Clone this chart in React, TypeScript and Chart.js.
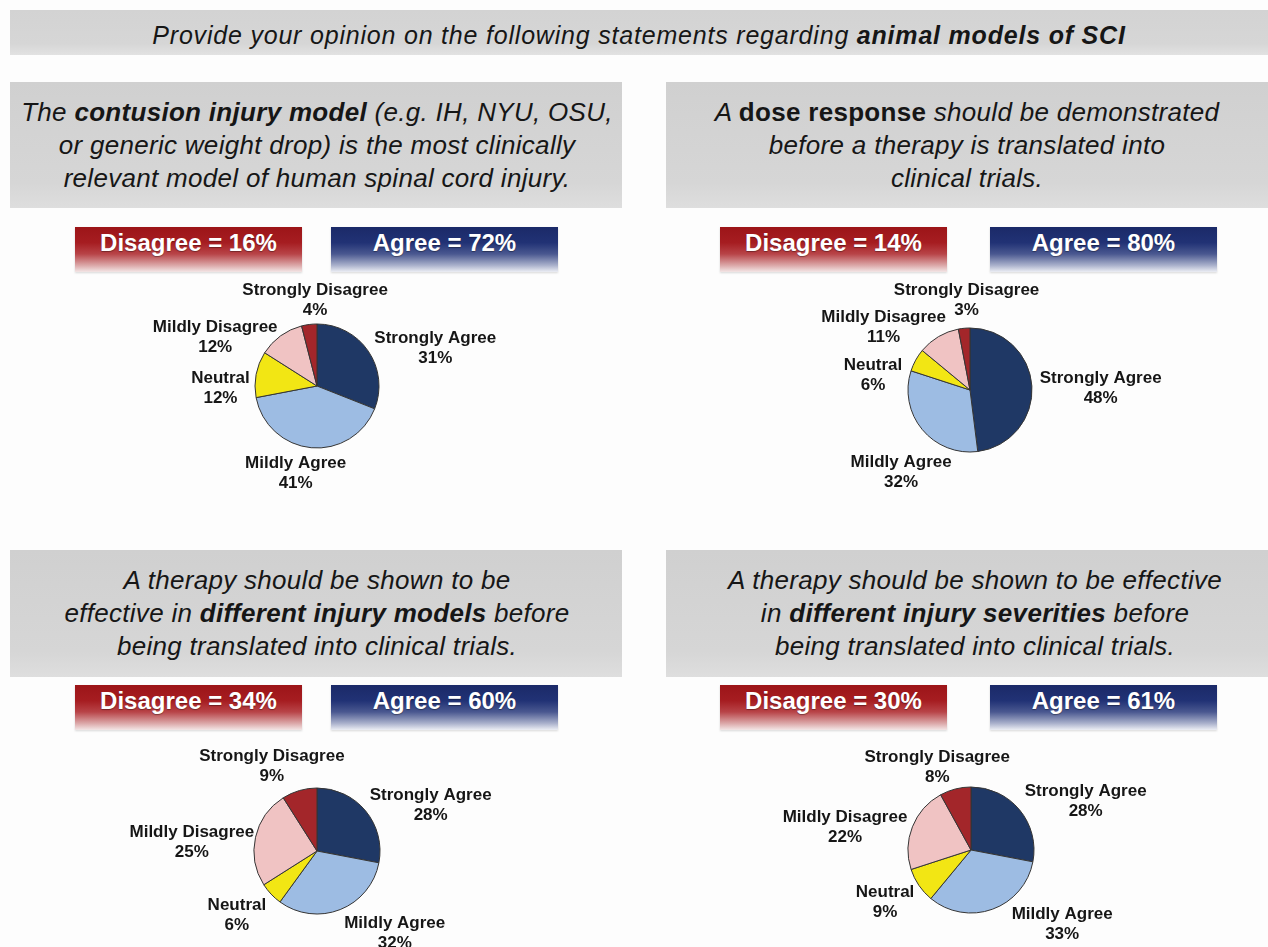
import React, { useEffect, useRef } from "react";
import { Chart, registerables } from "chart.js";

Chart.register(...registerables);

// ---------- data ----------
const categories = ["Strongly Agree", "Mildly Agree", "Neutral", "Mildly Disagree", "Strongly Disagree"];
const contusionValues = [31, 41, 12, 12, 4];
const doseResponseValues = [48, 32, 6, 11, 3];
const injuryModelValues = [28, 32, 6, 25, 9];
const injurySeverityValues = [28, 33, 9, 22, 8];
const disagreeTotals = [16, 14, 34, 30];
const agreeTotals = [72, 80, 60, 61];
const pageTitle = ["Provide your opinion on the following statements regarding ", "animal models of SCI"];

// ---------- style ----------
const sliceColors = ["#1f3865", "#9dbce3", "#f2e614", "#f0c3c3", "#a3262a"];
const FONT = '"Liberation Sans", Arial, Helvetica, sans-serif';

const labelPlugin = {
  id: "outerLabels",
  afterDatasetsDraw(chart: any, _args: any, opts: any) {
    const ctx = chart.ctx;
    const meta = chart.getDatasetMeta(0);
    const ds = chart.data.datasets[0];
    const nudges = opts.nudges || [];
    ctx.save();
    ctx.font = `bold ${opts.fontSize}px ${FONT}`;
    ctx.fillStyle = "#161616";
    ctx.textAlign = "center";
    ctx.textBaseline = "middle";
    meta.data.forEach((arc: any, i: number) => {
      const p = arc.getProps(["x", "y", "startAngle", "endAngle", "outerRadius"], true);
      const mid = (p.startAngle + p.endAngle) / 2;
      const ux = Math.cos(mid);
      const uy = Math.sin(mid);
      const l1 = String(chart.data.labels[i]);
      const l2 = ds.data[i] + "%";
      const w = Math.max(ctx.measureText(l1).width, ctx.measureText(l2).width);
      const h = opts.lineGap * 2;
      const ax = p.x + ux * (p.outerRadius + opts.gap);
      const ay = p.y + uy * (p.outerRadius + opts.gap);
      const n = nudges[i] || [0, 0];
      const cx = ax + (ux * w) / 2 + n[0];
      const cy = ay + (uy * h) / 2 + n[1];
      ctx.fillText(l1, cx, cy - opts.lineGap / 2);
      ctx.fillText(l2, cx, cy + opts.lineGap / 2);
    });
    ctx.restore();
  },
};

type PanelLayout = {
  values: number[];
  header: { left: number; top: number; width: number; height: number; textCenter: number };
  lines: React.ReactNode[];
  badgeTop: number;
  redLeft: number;
  blueLeft: number;
  pie: { cx: number; cy: number; r: number };
  nudges: number[][];
};

const CW = 460;
const CH = 260;

function PieCanvas({ values, pie, nudges }: { values: number[]; pie: PanelLayout["pie"]; nudges: number[][] }) {
  const ref = useRef<HTMLCanvasElement | null>(null);
  useEffect(() => {
    if (!ref.current) return;
    const chart = new Chart(ref.current, {
      type: "pie",
      data: {
        labels: categories,
        datasets: [
          {
            data: values,
            backgroundColor: sliceColors,
            borderColor: "#353535",
            borderWidth: 1,
          },
        ],
      },
      options: {
        responsive: false,
        animation: false,
        radius: pie.r,
        layout: { padding: 0 },
        events: [],
        plugins: {
          legend: { display: false },
          tooltip: { enabled: false },
          outerLabels: { nudges, gap: 8, lineGap: 20, fontSize: 17 },
        } as any,
      } as any,
      plugins: [labelPlugin as any],
    });
    return () => chart.destroy();
  }, []);
  return (
    <canvas
      ref={ref}
      width={CW}
      height={CH}
      style={{ position: "absolute", left: pie.cx - CW / 2, top: pie.cy - CH / 2, width: CW, height: CH }}
    />
  );
}

const B = ({ children, italic = true }: { children: React.ReactNode; italic?: boolean }) => (
  <span style={{ fontWeight: "bold", fontStyle: italic ? "italic" : "normal" }}>{children}</span>
);

const panels: PanelLayout[] = [
  {
    values: contusionValues,
    header: { left: 10, top: 82, width: 612, height: 126, textCenter: 317 },
    lines: [
      <>The <B>contusion injury model</B> (e.g. IH, NYU, OSU,</>,
      <>or generic weight drop) is the most clinically</>,
      <>relevant model of human spinal cord injury.</>,
    ],
    badgeTop: 227,
    redLeft: 75,
    blueLeft: 331,
    pie: { cx: 317, cy: 386, r: 62 },
    nudges: [[10, 13], [-10, -2], [1, 19], [-24, 24], [16, 4]],
  },
  {
    values: doseResponseValues,
    header: { left: 666, top: 82, width: 602, height: 126, textCenter: 967 },
    lines: [
      <>A <B italic={false}>dose response</B> should be demonstrated</>,
      <>before a therapy is translated into</>,
      <>clinical trials.</>,
    ],
    badgeTop: 227,
    redLeft: 720,
    blueLeft: 990,
    pie: { cx: 970, cy: 390, r: 62 },
    nudges: [[0, 4], [24, 25], [-10, 29], [-19, 15], [10, 0]],
  },
  {
    values: injuryModelValues,
    header: { left: 10, top: 550, width: 612, height: 127, textCenter: 317 },
    lines: [
      <>A therapy should be shown to be</>,
      <>effective in <B>different injury models</B> before</>,
      <>being translated into clinical trials.</>,
    ],
    badgeTop: 685,
    redLeft: 75,
    blueLeft: 331,
    pie: { cx: 317, cy: 851, r: 63 },
    nudges: [[12, 12], [33, -2], [-7, 2], [5, 11], [-5, 3]],
  },
  {
    values: injurySeverityValues,
    header: { left: 666, top: 550, width: 602, height: 127, textCenter: 975 },
    lines: [
      <>A therapy should be shown to be effective</>,
      <>in <B>different injury severities</B> before</>,
      <>being translated into clinical trials.</>,
    ],
    badgeTop: 685,
    redLeft: 720,
    blueLeft: 990,
    pie: { cx: 971, cy: 850, r: 63 },
    nudges: [[13, 9], [50, -11], [-3, 1], [-2, 11], [2, 5]],
  },
];

const BADGE_W = 227;
const BADGE_H = 45;

function Badge({ left, top, text, kind }: { left: number; top: number; text: string; kind: "red" | "blue" }) {
  const bg =
    kind === "red"
      ? "linear-gradient(to bottom, #9c1518 0%, #a61d21 35%, #b84448 60%, #dba7a8 85%, #f3e6e6 100%)"
      : "linear-gradient(to bottom, #1b2a68 0%, #213275 35%, #4a5890 60%, #a9b0cb 85%, #eceef4 100%)";
  return (
    <div
      style={{
        position: "absolute",
        left,
        top,
        width: BADGE_W,
        height: BADGE_H,
        background: bg,
        color: "#ffffff",
        fontFamily: FONT,
        fontWeight: "bold",
        fontSize: 24,
        lineHeight: "32px",
        textAlign: "center",
        whiteSpace: "nowrap",
        textShadow: "0 1px 1px rgba(0,0,0,0.35)",
        boxShadow: "0 1px 2px rgba(0,0,0,0.15)",
      }}
    >
      {text}
    </div>
  );
}

function Panel({ p, idx }: { p: PanelLayout; idx: number }) {
  return (
    <>
      <div
        style={{
          position: "absolute",
          left: p.header.left,
          top: p.header.top,
          width: p.header.width,
          height: p.header.height,
          background: "linear-gradient(to bottom, #d0d0d0 0%, #d6d6d6 80%, #dedede 100%)",
        }}
      />
      <div
        style={{
          position: "absolute",
          left: p.header.textCenter - 340,
          width: 680,
          top: p.header.top,
          height: p.header.height,
          display: "flex",
          flexDirection: "column",
          justifyContent: "center",
          alignItems: "center",
          fontFamily: FONT,
          fontStyle: "italic",
          fontSize: 26,
          letterSpacing: "0.3px",
          lineHeight: "33px",
          color: "#161616",
          whiteSpace: "nowrap",
        }}
      >
        {p.lines.map((l, i) => (
          <div key={i}>{l}</div>
        ))}
      </div>
      <Badge left={p.redLeft} top={p.badgeTop} kind="red" text={`Disagree = ${disagreeTotals[idx]}%`} />
      <Badge left={p.blueLeft} top={p.badgeTop} kind="blue" text={`Agree = ${agreeTotals[idx]}%`} />
      <PieCanvas values={p.values} pie={p.pie} nudges={p.nudges} />
    </>
  );
}

export default function App() {
  return (
    <div
      style={{
        position: "fixed",
        left: 0,
        top: 0,
        width: 1268,
        height: 947,
        overflow: "hidden",
        background: "#fdfdfd",
      }}
    >
      <div
        style={{
          position: "absolute",
          left: 10,
          top: 10,
          width: 1258,
          height: 45,
          background: "linear-gradient(to bottom, #d3d3d3 0%, #d6d6d6 75%, #e2e2e2 100%)",
        }}
      />
      <div
        style={{
          position: "absolute",
          left: 0,
          width: 1268,
          top: 10,
          height: 50,
          lineHeight: "50px",
          textAlign: "center",
          fontFamily: FONT,
          fontStyle: "italic",
          fontSize: 25,
          letterSpacing: "0.8px",
          color: "#161616",
          whiteSpace: "nowrap",
          paddingLeft: 10,
          boxSizing: "border-box",
        }}
      >
        {pageTitle[0]}
        <span style={{ fontWeight: "bold" }}>{pageTitle[1]}</span>
      </div>
      {panels.map((p, i) => (
        <Panel key={i} p={p} idx={i} />
      ))}
    </div>
  );
}
